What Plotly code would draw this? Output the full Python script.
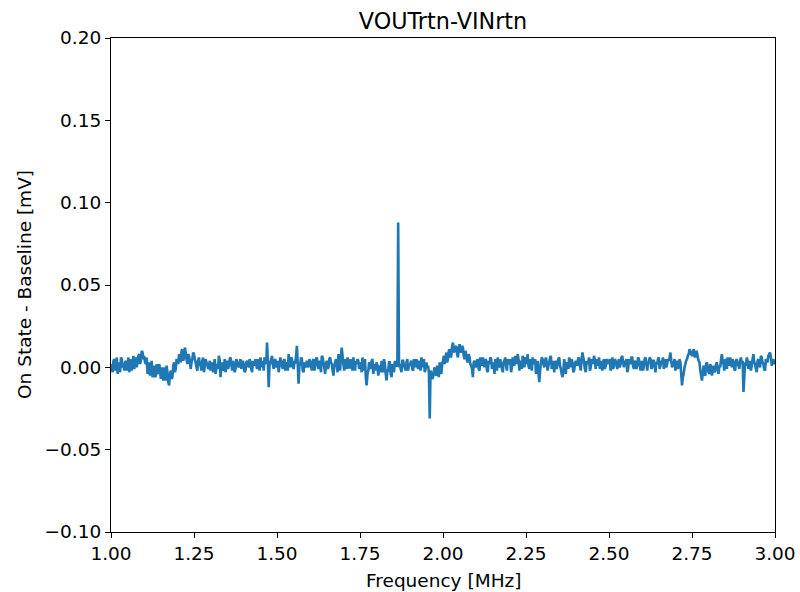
import numpy as np
import plotly.graph_objects as go

# Signal, in units of 0.001 mV, one value per 0.005 MHz from 1.00 to 3.00 MHz
signal_uV = [
    2, -3, 5, 1, -4, 3, 6, 0, -2, 4, 1, -3, 5, 2, -1, 6, 3, 8, 4, 9,          # 1.00
    7, 2, -4, 3, -2, -6, 1, -5, -3, 2, -7, -4, 0, -8, -3, -11, -2, -6, 3, -1,  # 1.10
    4, 8, 3, 11, 6, 9, 2, 7, -1, 5, 8, 3, -2, 6, 1, 4, -3, 5, 2, 0,          # 1.20
    -2, 3, 1, -4, 2, 7, -6, 3, 0, -3, 4, 1, 6, -2, 2, -1, 3, 0, 5, 2,        # 1.30
    1, -2, 4, 0, 3, -3, 2, 5, -1, 3, 6, 0, -2, 4, 15, -12, 3, 7, -1, 5,      # 1.40
    2, -3, 6, 1, 4, -2, 3, 8, 0, 5, -1, 3, 13, -10, 2, 5, -3, 1, 4, 0,       # 1.50
    3, -2, 5, 1, 6, -1, 2, 7, 3, -4, 4, 0, 6, 2, -5, 3, 1, 8, -2, 12,        # 1.60
    2, 5, -1, 4, 0, 3, 6, -2, 2, 4, 1, -3, 3, 5, -11, -2, 2, 4, -4, 1,       # 1.70
    3, -5, 1, 4, -3, 2, -8, -2, 3, -6, 0, 4, 1, 88, 2, -3, 4, 0, 3, -2,      # 1.80
    1, 4, -2, 3, 5, -1, 2, 6, 0, -3, 3, 1, -31, -4, -6, 0, -5, -2, 3, -4,    # 1.90
    4, 2, 9, 5, 11, 7, 15, 10, 13, 6, 14, 9, 12, 5, 8, 3, 6, 1, -6, 4,       # 2.00
    1, 5, -2, 3, 6, 0, 4, -3, 2, 5, 1, -4, 3, 6, 0, 2, -3, 4, 1, 5,          # 2.10
    2, -3, 6, 1, 4, 8, -2, 3, 7, 0, 5, 8, -1, 3, 6, 2, -4, 4, -9, 3,         # 2.20
    5, 0, 6, -2, 3, 7, 1, -3, 4, 2, 6, -1, -6, 5, -4, 2, 6, 0, 3, -2,        # 2.30
    4, 1, 5, -2, 9, 3, -3, 2, 6, 0, 4, 7, -1, 3, 6, 2, -2, 5, 1, 4,          # 2.40
    3, -2, 6, 1, 4, -1, 5, 2, 7, 0, 3, -3, 5, 2, 6, -1, 3, 1, 5, -2,         # 2.50
    4, 1, 6, -2, 3, 5, 0, 4, -3, 2, 6, 1, 3, -1, 5, 2, 4, 9, 0, 3,           # 2.60
    -2, 4, 1, 3, -11, -4, 2, 5, 8, 10, 7, 11, 6, 9, 4, -2, -8, 1, -5, 3,     # 2.70
    -3, 2, -5, 1, -2, 3, -4, 0, 8, 2, 5, -1, 4, 6, 0, 3, -2, 5, 1, 4,        # 2.80
    2, -15, 3, 6, -1, 4, 1, 8, 2, -3, 5, 0, 6, 2, -2, 4, 7, 9, 1, 5, 3,      # 2.90 .. 3.00
]

# Samples in between, also (0.001 mV), at 1.0025 + k*0.005 MHz
signal_mid_uV = [
    -1, 4, -2, 6, 0, -3, 5, 2, 3, -2, 6, 1, -2, 7, 3, 0, 7, 2, 10, 5,        # 1.00
    3, 6, -1, -5, 4, -3, -6, 2, -4, -1, 0, -8, -5, 1, -9, -4, -7, 1, -3, 5,  # 1.10
    2, 6, 10, 4, 12, 5, 8, 4, 3, 9, 5, 0, 4, 2, -2, 6, 1, 3, -1, 4,          # 1.20
    1, -3, 5, 0, -1, 4, 1, -2, 5, 2, -1, 5, 2, 4, -3, 5, 1, 3, -1, 4,        # 1.30
    -3, 3, 2, 5, -1, 4, 1, 2, 5, -2, 3, 4, 6, 2, 3, 1, 5, 2, 4, 0,           # 1.40
    4, 1, 3, -1, 5, 2, -2, 4, 6, 1, 3, 7, 2, 1, 6, -2, 3, 0, 2, 5,           # 1.50
    1, 4, -2, 5, 2, 4, -3, 6, 0, 2, -1, 5, 3, -2, 1, 5, -3, 4, 6, 7,         # 1.60
    -2, 3, 6, 0, 5, -2, 2, 4, 5, -1, 3, 6, -2, -6, -4, 3, -1, 5, 2, -2,      # 1.70
    1, -1, -3, 2, 5, -4, -2, 3, -4, 2, -3, 1, 2, 0, -1, 4, 1, -2, 5, 2,      # 1.80
    3, -1, 5, 0, 2, 4, -2, 3, 5, -1, 0, -3, -2, -7, -2, -4, 1, -6, -1, 2,    # 1.90
    7, 5, 3, 10, 6, 13, 9, 12, 8, 11, 10, 13, 7, 10, 4, 8, 2, -1, 3, 0,      # 2.00
    4, -1, 6, 1, 3, 5, -2, 4, 6, -1, 3, 5, -2, 2, 5, -1, 3, 6, -2, 3,        # 2.10
    5, 0, 3, 7, 2, 5, 4, -1, 4, 6, 2, 1, 5, -2, 3, 5, 0, -3, -2, 6,          # 2.20
    2, 4, 3, 1, 6, -1, 4, 2, -1, 5, 1, -4, -2, 1, 3, -1, 4, 5, -3, 2,        # 2.30
    3, 6, 1, 5, 6, -1, 4, 3, -2, 5, 2, 4, 5, 1, -1, 4, 3, -1, 5, 2,          # 2.40
    5, 2, -1, 5, 2, 3, 0, 6, 3, 4, 5, -1, 3, 6, 1, 4, -1, 6, 2, 1,           # 2.50
    -2, 5, 3, 2, 6, -1, 4, 2, 3, 5, -1, 4, 6, 2, 0, 5, 6, 4, 2, 5,           # 2.60
    1, -1, 5, -4, -6, 0, 4, 7, 11, 8, 9, 7, 10, 6, 3, -5, -3, -4, 2, -1,     # 2.70
    -4, 0, -2, -3, 2, -1, 1, 5, 3, -2, 4, 6, 1, 3, 5, -1, 4, 2, -1, 6,       # 2.80
    4, -6, 1, 4, 2, -2, 5, 3, -1, 4, 2, 7, 3, -1, 5, 3, 8, 6, 4, 2,          # 2.90
]
assert len(signal_uV) == 401
assert len(signal_mid_uV) == 400

freq_main = np.linspace(1.0, 3.0, 401)
freq_mid = np.linspace(1.0025, 2.9975, 400)
freq_all = np.concatenate([freq_main, freq_mid])
vals_all = np.concatenate([np.array(signal_uV), np.array(signal_mid_uV)]) / 1000.0
order = np.argsort(freq_all)
freq_mhz = freq_all[order]
signal_mv = vals_all[order]

x_ticks = [1.00, 1.25, 1.50, 1.75, 2.00, 2.25, 2.50, 2.75, 3.00]
y_ticks = [-0.10, -0.05, 0.00, 0.05, 0.10, 0.15, 0.20]

FONT = "DejaVu Sans"
L, R, T, B = 111, 25, 38, 60
W, H = 800, 592
PW, PH = W - L - R, H - T - B

fig = go.Figure()
fig.add_trace(go.Scatter(
    x=freq_mhz, y=signal_mv, mode="lines",
    line=dict(color="#1f77b4", width=2.6, simplify=False),
    showlegend=False,
))

axis_common = dict(
    showline=True, linecolor="black", linewidth=1.1, mirror=True,
    ticks="outside", ticklen=5, tickwidth=1.1, tickcolor="black",
    showgrid=False, zeroline=False, automargin=False,
    tickfont=dict(family=FONT, size=18.5, color="black"),
)

fig.update_layout(
    width=W, height=H,
    margin=dict(l=L, r=R, t=T, b=B),
    paper_bgcolor="white", plot_bgcolor="white",
    title=dict(text="VOUTrtn-VINrtn", x=(L + W - R) / 2 / W, xanchor="center",
               y=1 - 21 / H, yanchor="middle",
               font=dict(family=FONT, size=22.3, color="black")),
    xaxis=dict(range=[1.0, 3.0], tickvals=x_ticks, tickformat=".2f", **axis_common),
    yaxis=dict(range=[-0.10, 0.20], tickvals=y_ticks, tickformat=".2f", **axis_common),
    annotations=[
        dict(text="Frequency [MHz]", xref="paper", yref="paper",
             x=0.5, y=(T + PH - 580) / PH, xanchor="center", yanchor="middle",
             showarrow=False, font=dict(family=FONT, size=18.5, color="black")),
        dict(text="On State - Baseline [mV]", xref="paper", yref="paper",
             x=(24 - L) / PW, y=0.5, xanchor="center", yanchor="middle", textangle=-90,
             showarrow=False, font=dict(family=FONT, size=18.5, color="black")),
    ],
)

fig.write_html("out.html")
